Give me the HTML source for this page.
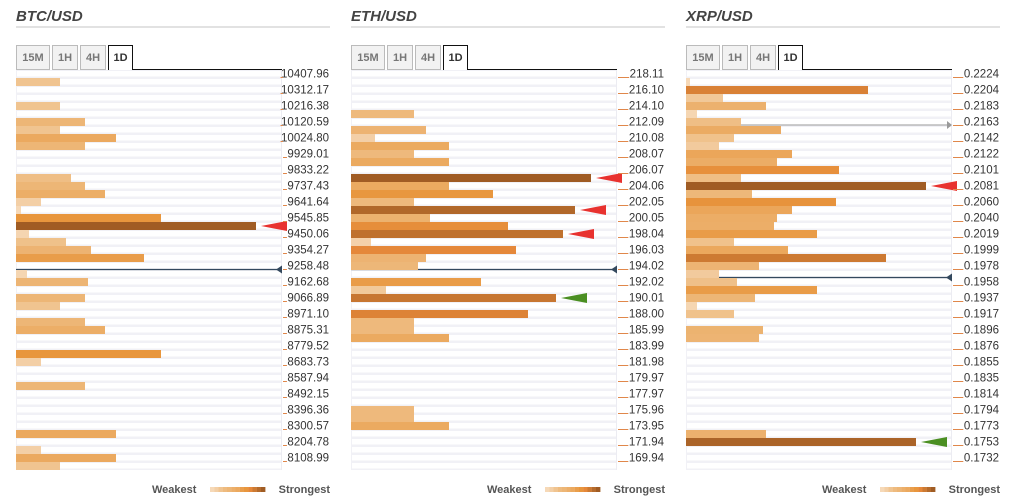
<!DOCTYPE html>
<html><head><meta charset="utf-8">
<style>
html,body{margin:0;padding:0;background:#fff;width:1010px;height:503px;overflow:hidden;font-family:"Liberation Sans",sans-serif;}
svg{display:block}
</style></head>
<body>
<svg id="chart" width="1010" height="503" xmlns="http://www.w3.org/2000/svg"></svg>
<script>
const btcLabels = ["10407.96","10312.17","10216.38","10120.59","10024.80","9929.01","9833.22","9737.43","9641.64","9545.85","9450.06","9354.27","9258.48","9162.68","9066.89","8971.10","8875.31","8779.52","8683.73","8587.94","8492.15","8396.36","8300.57","8204.78","8108.99"];
const ethLabels = ["218.11","216.10","214.10","212.09","210.08","208.07","206.07","204.06","202.05","200.05","198.04","196.03","194.02","192.02","190.01","188.00","185.99","183.99","181.98","179.97","177.97","175.96","173.95","171.94","169.94"];
const xrpLabels = ["0.2224","0.2204","0.2183","0.2163","0.2142","0.2122","0.2101","0.2081","0.2060","0.2040","0.2019","0.1999","0.1978","0.1958","0.1937","0.1917","0.1896","0.1876","0.1855","0.1835","0.1814","0.1794","0.1773","0.1753","0.1732"];
const btcStrength = [0,44,0,0,44,0,69,44,100,69,0,0,0,55,69,89,25,5,145,240,13,50,75,128,0,11,72,0,69,44,0,69,89,0,0,145,25,0,0,69,0,0,0,0,0,100,0,25,100,44];
const ethStrength = [0,0,0,0,0,63,0,75,24,98,63,98,0,240,98,142,63,224,79,157,212,20,165,75,67,0,130,35,205,0,177,63,63,98,0,0,0,0,0,0,0,0,63,63,98,0,0,0,0,0];
const xrpStrength = [0,4,182,37,80,11,55,95,48,33,106,91,153,55,240,66,150,106,91,88,131,48,102,200,73,33,51,131,69,11,48,0,77,73,0,0,0,0,0,0,0,0,0,0,0,80,230,0,0,0];
const btcArrows = [[19,"red"]];
const ethArrows = [[13,"red"],[17,"red"],[20,"red"],[28,"green"]];
const xrpArrows = [[14,"red"],[46,"green"]];
const priceRow = [25,25,26];

const NS="http://www.w3.org/2000/svg";
const svg=document.getElementById('chart');
function mk(tag,attrs,parent){const e=document.createElementNS(NS,tag);for(const k in attrs)e.setAttribute(k,attrs[k]);(parent||svg).appendChild(e);return e;}
const TOP=70,ROWH=8,W=266,MAXS=266;
const xScale=v=>v/MAXS*W;
const yRow=i=>TOP+i*ROWH;
const stops=[[0,[247,219,188]],[25,[243,207,166]],[44,[240,196,144]],[69,[237,182,118]],[100,[235,169,95]],[145,[232,150,61]],[165,[229,136,58]],[200,[205,122,50]],[220,[181,107,44]],[240,[160,92,36]],[266,[150,85,32]]];
function colorOf(v){for(let i=1;i<stops.length;i++){if(v<=stops[i][0]){const a=stops[i-1],b=stops[i];const t=(v-a[0])/(b[0]-a[0]);const c=a[1].map((x,j)=>Math.round(x+(b[1][j]-x)*t));return `rgb(${c})`;}}return 'rgb(150,85,32)';}

const panels=[
 {name:"btc",title:"BTC/USD",x:16,labels:btcLabels,data:btcStrength,arrows:btcArrows},
 {name:"eth",title:"ETH/USD",x:351,labels:ethLabels,data:ethStrength,arrows:ethArrows},
 {name:"xrp",title:"XRP/USD",x:686,labels:xrpLabels,data:xrpStrength,arrows:xrpArrows}
];
panels.forEach((p,pi)=>{
 const g=mk('g',{});
 
 
 const x0=p.x;
 const t=mk('text',{x:x0,y:21,'font-size':15,'font-weight':'bold','font-style':'italic',fill:'#444'},g);
 t.textContent=p.title;
 
 
 mk('rect',{x:x0,y:26,width:314,height:2,fill:'#e2e2e2'},g);
 const tabs=[["15M",x0,34],["1H",x0+36,26],["4H",x0+64,26],["1D",x0+92,25]];
 mk('line',{x1:x0+117,y1:69.5,x2:x0+W,y2:69.5,stroke:'#111','stroke-width':1},g);
 tabs.forEach((tb,ti)=>{
  const active=ti===3;
  const tg=mk('g',{},g);
  
  
  if(active){
   mk('path',{d:`M${tb[1]+0.5},70 V45.5 H${tb[1]+tb[2]-0.5} V70`,fill:'#fff',stroke:'#111','stroke-width':1},tg);
  } else {
   mk('rect',{x:tb[1]+0.5,y:45.5,width:tb[2]-1,height:24,fill:'#f2f2f2',stroke:'#bbb','stroke-width':1},tg);
  }
  const tt=mk('text',{x:tb[1]+tb[2]/2,y:61,'font-size':11,'font-weight':'bold','text-anchor':'middle',fill:active?'#333':'#777'},tg);
  tt.textContent=tb[0];
 });
 for(let i=0;i<50;i++){
  mk('rect',{x:x0,y:yRow(i),width:W,height:ROWH,fill:'#f1f1f6'},g);
  mk('rect',{x:x0+1,y:yRow(i)+1,width:W-2,height:ROWH-2.5,fill:'#fff'},g);
 }
 mk('rect',{x:x0+W-1,y:TOP,width:1,height:400,fill:'#ececf2'},g);
 const py=yRow(priceRow[pi])-0.5;
 const pl=mk('line',{x1:x0,y1:py,x2:x0+W-4,y2:py,stroke:'#34495e','stroke-width':1.3},g);
 
 
 mk('path',{d:`M${x0+W-6},${py} L${x0+W},${py-4} L${x0+W},${py+4} Z`,fill:'#34495e'},g);
 if(pi===2){
  const gy=yRow(7)-1;
  const gl=mk('line',{x1:x0,y1:gy,x2:x0+W-4,y2:gy,stroke:'#9a9a9a','stroke-width':1},g);
  
  
  mk('path',{d:`M${x0+W},${gy} L${x0+W-5},${gy-4} L${x0+W-5},${gy+4} Z`,fill:'#9a9a9a'},g);
 }
 p.data.forEach((v,i)=>{
  if(v<=0)return;
  const b=mk('rect',{x:x0,y:yRow(i),width:xScale(v),height:ROWH,fill:colorOf(v)},g);
  
  
 });
 p.arrows.forEach(a=>{
  const r=a[0];const e=x0+xScale(p.data[r])+5;const cy=yRow(r)+4;
  const ar=mk('path',{d:`M${e},${cy} L${e+26},${cy-5} L${e+26},${cy+5} Z`,fill:a[1]==='red'?'#e8322f':'#4b8f22'},g);
  
  
 });
 p.labels.forEach((l,k)=>{
  const ty=TOP+ROWH+k*16;
  const tx=x0+W+47;
  const lt=mk('text',{x:tx,y:ty-0.5,'font-size':11.5,'text-anchor':'end',fill:'#333'},g);
  lt.textContent=l;
  
  
  let tw=l.length*5.8;
  try{tw=lt.getComputedTextLength();}catch(e){}
  const tickEnd=Math.min(x0+W+15,tx-tw-0.5);
  mk('line',{x1:x0+W+1,y1:ty-0.5,x2:tickEnd,y2:ty-0.5,stroke:'#e0874a','stroke-width':1},g);
 });
 const lg=mk('g',{},g);
 
 
 const w1=mk('text',{x:x0+136,y:493,'font-size':11,'font-weight':'bold',fill:'#555'},lg);w1.textContent='Weakest';
 const sw=[5,25,44,60,69,85,100,125,145,165,200,220,240];
 sw.forEach((v,si)=>{mk('rect',{x:x0+194+si*4.25,y:487,width:4.4,height:5,fill:colorOf(v)},lg);});
 const w2=mk('text',{x:x0+W+48,y:493,'font-size':11,'font-weight':'bold','text-anchor':'end',fill:'#555'},lg);w2.textContent='Strongest';
});
</script>
</body></html>
